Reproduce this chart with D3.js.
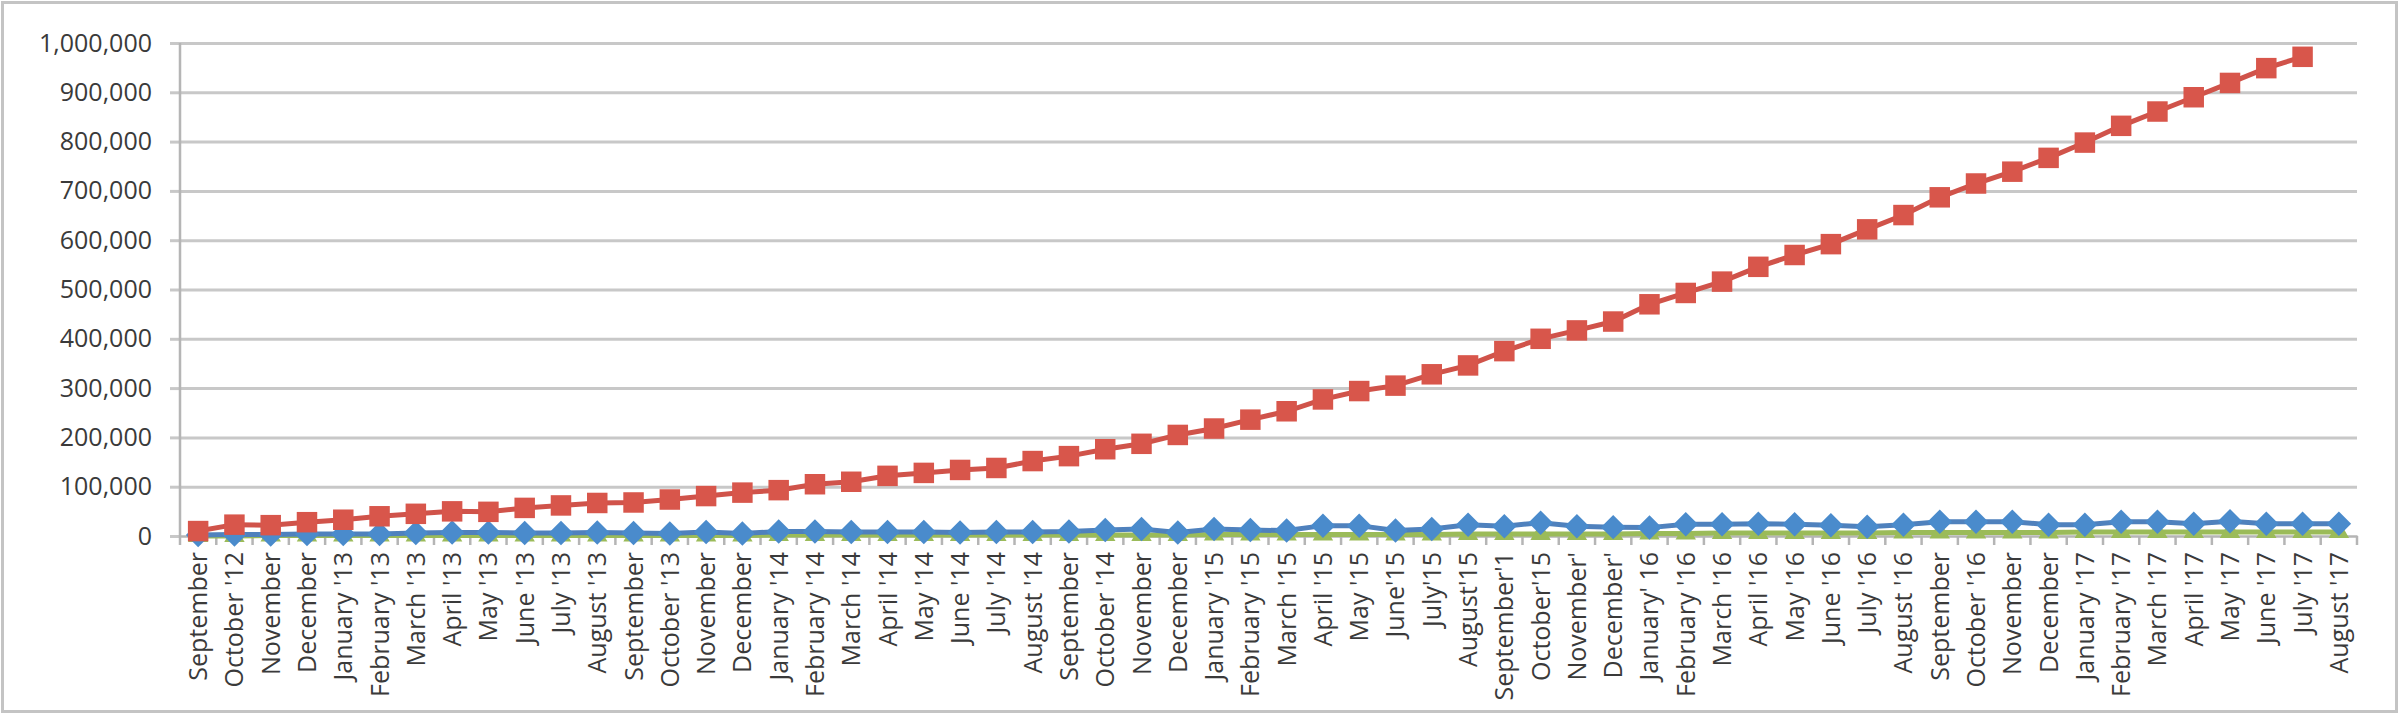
<!DOCTYPE html>
<html>
<head>
<meta charset="utf-8">
<script src="https://cdn.jsdelivr.net/npm/d3@7"></script>
<style>
  html, body { margin: 0; padding: 0; background: #ffffff; }
  svg { display: block; }
  text { font-family: "Open Sans", "DejaVu Sans", sans-serif; fill: #3a3a3a; }
</style>
</head>
<body>
<svg id="chart" width="2400" height="723"></svg>
<script>
const categories = [
  "September", "October '12", "November", "December",
  "January '13", "February '13", "March '13", "April '13", "May '13", "June '13",
  "July '13", "August '13", "September", "October '13", "November", "December",
  "January '14", "February '14", "March '14", "April '14", "May '14", "June '14",
  "July '14", "August '14", "September", "October '14", "November", "December",
  "January '15", "February '15", "March '15", "April '15", "May '15", "June'15",
  "July'15", "August'15", "September'1", "October'15", "November'", "December'",
  "January' 16", "February '16", "March '16", "April '16", "May '16", "June '16",
  "July '16", "August '16", "September", "October '16", "November", "December",
  "January '17", "February '17", "March '17", "April '17", "May '17", "June '17",
  "July '17", "August '17"
];

// red series (ends at July '17)
const redValues = [
  10000, 23000, 22000, 28000,
  33000, 40000, 45000, 50000, 49000, 57000, 62000, 67000, 68000, 74000, 81000, 88000,
  93000, 105000, 110000, 122000, 128000, 134000, 138000, 152000, 162000, 176000, 187000, 205000,
  218000, 236000, 253000, 277000, 294000, 305000, 328000, 346000, 375000, 400000, 417000, 435000,
  470000, 493000, 516000, 546000, 570000, 592000, 622000, 651000, 687000, 715000, 739000, 767000,
  798000, 832000, 861000, 890000, 919000, 949000, 972000
];

const blueValues = [
  2000, 3000, 3000, 4000,
  4000, 4000, 6000, 7000, 7000, 6000, 6000, 7000, 6000, 5000, 8000, 5000,
  9000, 9000, 8000, 8000, 8000, 7000, 8000, 8000, 9000, 12000, 14000, 7000,
  14000, 12000, 11000, 21000, 21000, 11000, 14000, 23000, 20000, 27000, 20000, 18000,
  17000, 24000, 24000, 25000, 24000, 22000, 19000, 23000, 29000, 29000, 29000, 23000,
  23000, 29000, 29000, 25000, 30000, 25000, 25000, 25000
];

const greenValues = [
  0, 0, 1000, 1000,
  1000, 1000, 1000, 1000, 1000, 1000, 1000, 1000, 1000, 1000, 1000, 1000,
  2000, 2000, 2000, 2000, 2000, 2000, 2000, 2000, 2000, 2000, 2000, 2000,
  3000, 3000, 3000, 3000, 3000, 3000, 3000, 4000, 4000, 4000, 4000, 4000,
  5000, 5000, 6000, 6000, 6000, 6000, 6000, 7000, 7000, 7000, 7000, 7000,
  8000, 8000, 8000, 8000, 8000, 8000, 8000, 8000
];

const yTicks = [0, 100000, 200000, 300000, 400000, 500000, 600000, 700000, 800000, 900000, 1000000];

const svg = d3.select("#chart");
const W = 2400, H = 723;
const plot = { left: 180, right: 2357, top: 43, bottom: 536 };

// chart frame
svg.append("rect")
  .attr("x", 2.5).attr("y", 2.5)
  .attr("width", W - 6).attr("height", 709)
  .attr("fill", "#ffffff")
  .attr("stroke", "#c4c4c4").attr("stroke-width", 3);

const idx = d3.range(categories.length);
const x = d3.scaleBand().domain(idx).range([plot.left, plot.right]).padding(0);
const y = d3.scaleLinear().domain([0, 1000000]).range([plot.bottom, plot.top]);
const cx = i => x(i) + x.bandwidth() / 2;

// left ticks + labels via axis
const yAxis = svg.append("g")
  .attr("transform", `translate(${plot.left},0)`)
  .call(d3.axisLeft(y).tickValues(yTicks).tickFormat(d3.format(",")).tickSize(10).tickPadding(18));
yAxis.select(".domain").remove();
yAxis.selectAll(".tick line").attr("stroke", "#c8c8c8").attr("stroke-width", 3);
yAxis.selectAll(".tick text").attr("font-size", 25).attr("fill", "#3a3a3a")
  .style("font-family", '"Open Sans", sans-serif');

// gridlines
const grid = svg.append("g")
  .attr("transform", `translate(${plot.left},0)`)
  .call(d3.axisLeft(y).tickValues(yTicks.slice(1)).tickFormat("").tickSize(-(plot.right - plot.left)));
grid.select(".domain").remove();
grid.selectAll(".tick line").attr("stroke", "#c8c8c8").attr("stroke-width", 3);

// y axis line
svg.append("line")
  .attr("x1", plot.left).attr("x2", plot.left)
  .attr("y1", y(1000000)).attr("y2", plot.bottom)
  .attr("stroke", "#b5b5b5").attr("stroke-width", 2.5);

// x axis: domain line
const xAxis = svg.append("g")
  .attr("transform", `translate(0,${plot.bottom})`)
  .call(d3.axisBottom(x).tickSize(0).tickFormat(""));
xAxis.selectAll(".tick").remove();
xAxis.select(".domain").attr("stroke", "#b5b5b5").attr("stroke-width", 2.5);

// tick marks at category boundaries
const boundaries = idx.map(i => x(i)).concat([plot.right]);
svg.append("g").selectAll("line").data(boundaries).join("line")
  .attr("x1", d => d).attr("x2", d => d)
  .attr("y1", plot.bottom).attr("y2", plot.bottom + 9)
  .attr("stroke", "#b5b5b5").attr("stroke-width", 2.5);

// x labels, rotated
svg.append("g").selectAll("text").data(idx).join("text")
  .attr("transform", i => `translate(${cx(i)},${plot.bottom + 16}) rotate(-90)`)
  .attr("text-anchor", "end")
  .attr("dy", "0.36em")
  .attr("font-size", 25)
  .text(i => categories[i]);

// series
const line = d3.line().x(d => cx(d.i)).y(d => y(d.v));
const toPts = vals => vals.map((v, i) => ({ i, v }));

const greenPts = toPts(greenValues);
const bluePts = toPts(blueValues);
const redPts = toPts(redValues);

// green
svg.append("path").datum(greenPts).attr("d", line)
  .attr("fill", "none").attr("stroke", "#9bbb59").attr("stroke-width", 5);
svg.append("g").selectAll("path").data(greenPts).join("path")
  .attr("transform", d => `translate(${cx(d.i)},${y(d.v)})`)
  .attr("d", d3.symbol(d3.symbolTriangle, 180))
  .attr("fill", "#9bbb59");

// blue
svg.append("path").datum(bluePts).attr("d", line)
  .attr("fill", "none").attr("stroke", "#4f81bd").attr("stroke-width", 5);
svg.append("g").selectAll("path").data(bluePts).join("path")
  .attr("transform", d => `translate(${cx(d.i)},${y(d.v)}) rotate(45)`)
  .attr("d", d3.symbol(d3.symbolSquare, 300))
  .attr("fill", "#4a8bcc");

// red
svg.append("path").datum(redPts).attr("d", line)
  .attr("fill", "none").attr("stroke", "#d0534a").attr("stroke-width", 5);
svg.append("g").selectAll("path").data(redPts).join("path")
  .attr("transform", d => `translate(${cx(d.i)},${y(d.v)})`)
  .attr("d", d3.symbol(d3.symbolSquare, 420))
  .attr("fill", "#d8564b");
</script>
</body>
</html>
